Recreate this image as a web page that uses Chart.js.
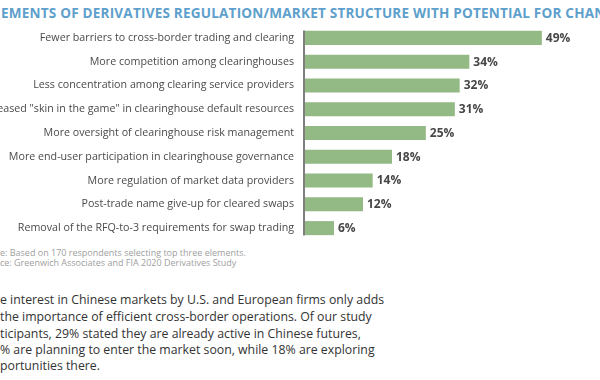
<!DOCTYPE html>
<html>
<head>
<meta charset="utf-8">
<script src="https://cdn.jsdelivr.net/npm/chart.js@4.4.1/dist/chart.umd.min.js"></script>
<style>
  html, body { margin:0; padding:0; width:600px; height:380px; overflow:hidden; background:#fff; }
  body { position:relative; font-family:"Open Sans", sans-serif; }
  #title { position:absolute; left:1px; top:4px; white-space:nowrap; font-weight:700; font-size:13.55px; color:#5e9fcc; letter-spacing:0.2px; }
  #wrap { position:absolute; left:0; top:26px; width:600px; height:214px; }
  .note { position:absolute; left:0; white-space:nowrap; font-size:9px; color:#a0a0a0; }
  .body { position:absolute; left:0; white-space:nowrap; font-size:12.3px; color:#333; }
</style>
</head>
<body>
<div id="title">EMENTS OF DERIVATIVES REGULATION/MARKET STRUCTURE WITH POTENTIAL FOR CHANG</div>
<div id="wrap"><canvas id="c"></canvas></div>
<div class="note" style="top:246px">e: Based on 170 respondents selecting top three elements.</div>
<div class="note" style="top:256px">ce: Greenwich Associates and FIA 2020 Derivatives Study</div>
<div class="body" style="top:291px">e interest in Chinese markets by U.S. and European firms only adds</div>
<div class="body" style="top:308px">the importance of efficient cross-border operations. Of our study</div>
<div class="body" style="top:325px">ticipants, 29% stated they are already active in Chinese futures,</div>
<div class="body" style="top:341px">% are planning to enter the market soon, while 18% are exploring</div>
<div class="body" style="top:357px">portunities there.</div>
<script>
const categories = [
  "Fewer barriers to cross-border trading and clearing",
  "More competition among clearinghouses",
  "Less concentration among clearing service providers",
  "eased \"skin in the game\" in clearinghouse default resources",
  "More oversight of clearinghouse risk management",
  "More end-user participation in clearinghouse governance",
  "More regulation of market data providers",
  "Post-trade name give-up for cleared swaps",
  "Removal of the RFQ-to-3 requirements for swap trading"
];
const values = [49, 34, 32, 31, 25, 18, 14, 12, 6];
const valueLabels = values.map(v => v + "%");

const barLabels = {
  id: 'barLabels',
  afterDatasetsDraw(chart) {
    const ctx = chart.ctx;
    const meta = chart.getDatasetMeta(0);
    const ys = chart.scales.y;
    ctx.save();
    const top = ys.getPixelForValue(0) - 7.5;
    const bot = ys.getPixelForValue(values.length - 1) + 7.5;
    ctx.strokeStyle = '#555';
    ctx.lineWidth = 1.5;
    ctx.beginPath();
    ctx.moveTo(chart.chartArea.left - 1, top);
    ctx.lineTo(chart.chartArea.left - 1, bot);
    ctx.stroke();
    ctx.font = '700 12px "Open Sans", sans-serif';
    ctx.fillStyle = '#474747';
    ctx.textBaseline = 'middle';
    ctx.textAlign = 'left';
    meta.data.forEach((bar, i) => {
      ctx.fillText(valueLabels[i], bar.x + 4, bar.y + 0.5);
    });
    ctx.restore();
  }
};

new Chart(document.getElementById('c'), {
  type: 'bar',
  data: {
    labels: categories,
    datasets: [{
      data: values,
      backgroundColor: '#93b985',
      borderWidth: 0,
      barPercentage: 0.59,
      categoryPercentage: 1.0
    }]
  },
  options: {
    indexAxis: 'y',
    responsive: true,
    maintainAspectRatio: false,
    animation: false,
    layout: { padding: { left: 0, right: 5, top: 0, bottom: 0 } },
    plugins: { legend: { display: false }, tooltip: { enabled: false } },
    scales: {
      x: { display: false, min: 0, max: 60 },
      y: {
        grid: { display: false, drawTicks: false },
        border: { display: false },
        afterFit(scale) { scale.width = 305; scale.paddingTop = 0; scale.paddingBottom = 0; },
        ticks: {
          padding: 11,
          color: '#4a4a4a',
          font: { family: '"Open Sans", sans-serif', size: 10.7 }
        }
      }
    }
  },
  plugins: [barLabels]
});
</script>
</body>
</html>
